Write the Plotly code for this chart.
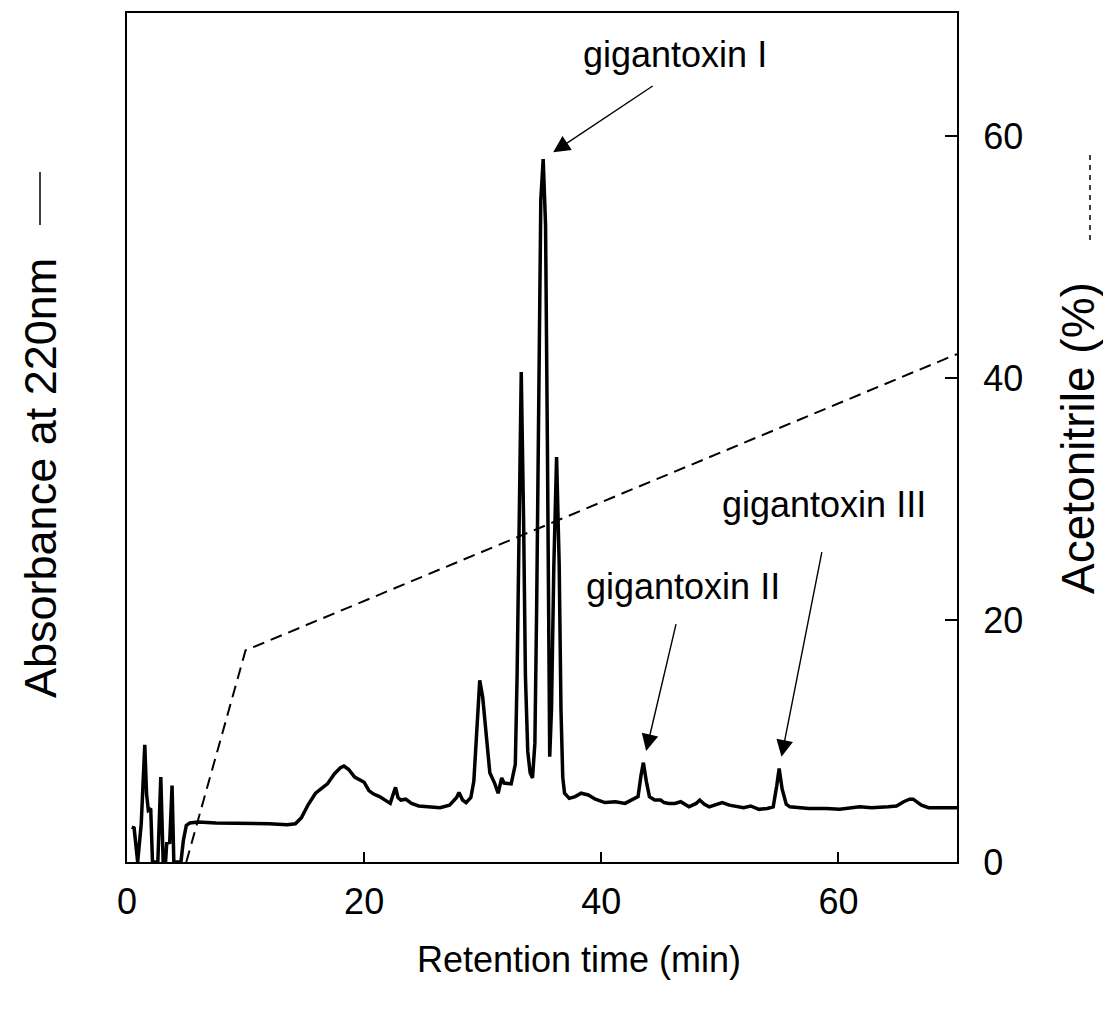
import plotly.graph_objects as go

# HPLC run: absorbance trace (arbitrary units) and acetonitrile gradient
time_min = [
    0.4, 0.6, 0.9, 1.2, 1.5, 1.65, 1.8, 2.0, 2.15, 2.6, 2.85, 3.05, 3.25, 3.35, 3.6, 3.8, 3.95,
    4.55, 4.75, 5.0, 5.3, 6.0, 7.5, 9.0, 10.5, 12.0, 13.5, 14.2, 14.7, 15.3, 15.9, 16.4, 16.9,
    17.5, 18.0, 18.3, 18.7, 19.2, 19.6, 20.0, 20.4, 20.8, 21.3, 21.8, 22.2, 22.5, 22.65, 22.85,
    23.1, 23.5, 24.0, 24.6, 25.5, 26.4, 27.2, 27.8, 28.0, 28.3, 28.6, 29.0, 29.25, 29.5, 29.75,
    30.0, 30.3, 30.6, 31.0, 31.3, 31.6, 31.8, 32.4, 32.75, 32.9, 33.05, 33.25, 33.45, 33.6, 33.8,
    34.0, 34.2, 34.4, 34.55, 34.7, 34.9, 35.1, 35.3, 35.45, 35.55, 35.65, 35.8, 36.0, 36.23,
    36.45, 36.6, 36.75, 36.9, 37.3, 37.8, 38.3, 38.9, 39.5, 40.3, 41.2, 42.0, 42.6, 43.1, 43.35,
    43.55, 43.8, 44.06, 44.5, 45.0, 45.3, 45.7, 46.2, 46.7, 47.4, 48.0, 48.3, 48.7, 49.1, 49.7,
    50.2, 50.8, 51.4, 52.0, 52.6, 53.3, 54.0, 54.5, 54.8, 55.0, 55.25, 55.6, 55.9, 57.5, 59.0,
    60.1, 61.8, 62.8, 64.2, 64.9, 65.5, 66.0, 66.3, 66.7, 67.0, 67.6, 70.0,
]
absorbance = [
    4.1, 4.0, 0.0, 4.5, 13.8, 8.0, 6.1, 6.3, 0.0, 0.0, 10.0, 0.0, 0.0, 2.2, 2.3, 9.0, 0.0,
    0.0, 2.5, 4.3, 4.6, 4.7, 4.6, 4.6, 4.5, 4.5, 4.4, 4.5, 5.2, 6.8, 8.1, 8.7, 9.2,
    10.4, 11.1, 11.3, 10.9, 10.0, 9.7, 9.4, 8.4, 8.0, 7.7, 7.2, 6.9, 8.2, 8.8, 7.6,
    7.3, 7.4, 6.9, 6.6, 6.5, 6.4, 6.7, 7.6, 8.2, 7.3, 7.0, 7.6, 9.5, 15.2, 21.4,
    19.4, 14.4, 10.5, 9.3, 8.1, 9.9, 9.3, 9.2, 11.5, 22.0, 40.0, 57.7, 40.0, 22.0, 13.0,
    10.5, 9.9, 14.0, 30.0, 55.0, 78.0, 82.8, 75.0, 50.0, 25.0, 12.4, 18.0, 35.0, 47.7,
    35.0, 18.0, 10.0, 8.1, 7.5, 7.7, 8.1, 7.9, 7.4, 7.0, 7.1, 6.9, 7.3, 7.7, 10.2,
    11.7, 9.5, 7.7, 7.3, 7.3, 7.0, 6.9, 6.9, 7.1, 6.5, 6.9, 7.3, 6.8, 6.5, 6.8,
    7.0, 6.7, 6.5, 6.4, 6.6, 6.2, 6.3, 6.5, 9.0, 11.0, 8.6, 6.8, 6.5, 6.3, 6.3,
    6.2, 6.5, 6.4, 6.5, 6.6, 7.1, 7.4, 7.4, 7.0, 6.7, 6.4, 6.4,
]

gradient_time = [5, 10, 70]
acetonitrile_pct = [0, 17.5, 42]

x_ticks = [0, 20, 40, 60]
y2_ticks = [0, 20, 40, 60]

# labelled peaks: name, retention time, arrow offset (px), label position (time, %)
peak_names = ["gigantoxin I", "gigantoxin II", "gigantoxin III"]
peak_times = [35.1, 43.55, 55.0]
arrow_dx = [111, 33, 43]
arrow_dy = [-74, -140, -218]
label_time = [46.2, 46.9, 58.8]
label_pct = [66.8, 22.8, 29.6]

FONT = "Liberation Sans, Arial, sans-serif"
W, H = 1103, 1020
L, R, T, B = 127, 146, 13, 158
PW, PH = W - L - R, H - T - B

fig = go.Figure()
fig.add_trace(go.Scatter(
    x=time_min, y=absorbance, mode="lines",
    line=dict(color="black", width=3.5), yaxis="y", showlegend=False,
))
fig.add_trace(go.Scatter(
    x=gradient_time, y=acetonitrile_pct, mode="lines",
    line=dict(color="black", width=2, dash="12px,7px"), yaxis="y2", showlegend=False,
))

annotations = []
for name, pt, dx, dy, lt, lp in zip(peak_names, peak_times, arrow_dx, arrow_dy, label_time, label_pct):
    idx = min(range(len(time_min)), key=lambda i: abs(time_min[i] - pt))
    annotations.append(dict(
        x=time_min[idx], y=absorbance[idx], xref="x", yref="y", text="",
        showarrow=True, ax=dx, ay=dy, arrowhead=2, arrowsize=2.4, arrowwidth=1.4,
        arrowcolor="black", standoff=12,
    ))
    annotations.append(dict(
        x=lt, y=lp, xref="x", yref="y2", text=name, showarrow=False,
        font=dict(family=FONT, size=36, color="black"), xanchor="center", yanchor="middle",
    ))


def px(xp):
    return (xp - L) / PW


def py(yp):
    return (H - B - yp) / PH


annotations += [
    dict(x=px(40), y=py(478), xref="paper", yref="paper", text="Absorbance at 220nm",
         textangle=-90, showarrow=False, font=dict(family=FONT, size=45, color="black"),
         xanchor="center", yanchor="middle"),
    dict(x=px(1078), y=py(438), xref="paper", yref="paper", text="Acetonitrile (%)",
         textangle=-90, showarrow=False, font=dict(family=FONT, size=46, color="black"),
         xanchor="center", yanchor="middle"),
    dict(x=px(579), y=py(960), xref="paper", yref="paper", text="Retention time (min)",
         showarrow=False, font=dict(family=FONT, size=36, color="black"),
         xanchor="center", yanchor="middle"),
]

shapes = [
    dict(type="line", xref="paper", yref="paper", x0=px(40), x1=px(40), y0=py(172), y1=py(225),
         line=dict(color="black", width=1.5)),
    dict(type="line", xref="paper", yref="paper", x0=px(1090), x1=px(1090), y0=py(155), y1=py(245),
         line=dict(color="black", width=1.5, dash="5px,5px")),
]

fig.update_layout(
    width=W, height=H,
    margin=dict(l=L, r=R, t=T, b=B, pad=0),
    paper_bgcolor="white", plot_bgcolor="white",
    font=dict(family=FONT, size=36, color="black"),
    xaxis=dict(
        range=[0, 70], tickvals=x_ticks, ticks="inside", ticklen=10, tickwidth=1.5,
        tickcolor="black", showline=True, linecolor="black", linewidth=2, mirror=True,
        showgrid=False, zeroline=False, ticklabelstandoff=7,
        tickfont=dict(family=FONT, size=36, color="black"),
    ),
    yaxis=dict(
        range=[0, 100], showticklabels=False, ticks="", showline=True, linecolor="black",
        linewidth=2, showgrid=False, zeroline=False,
    ),
    yaxis2=dict(
        range=[0, 70.2], overlaying="y", side="right", tickvals=y2_ticks, ticks="inside",
        ticklen=12, tickwidth=1.5, tickcolor="black", showline=True, linecolor="black",
        linewidth=2, showgrid=False, zeroline=False, ticklabelstandoff=17,
        tickfont=dict(family=FONT, size=36, color="black"),
    ),
    annotations=annotations,
    shapes=shapes,
)

fig.write_html("out.html")
